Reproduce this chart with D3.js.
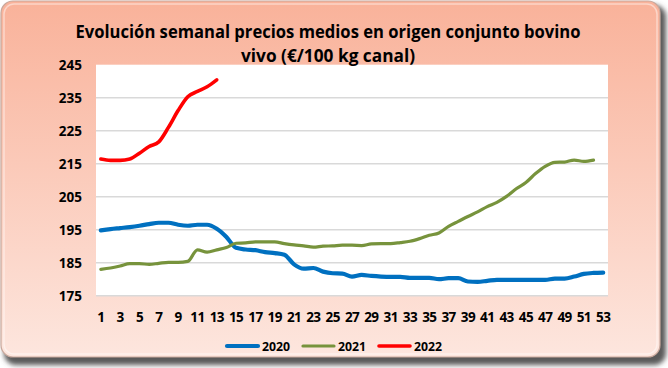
<!DOCTYPE html>
<html>
<head>
<meta charset="utf-8">
<script src="https://cdn.jsdelivr.net/npm/d3@7"></script>
<style>
  html, body { margin: 0; padding: 0; background: #ffffff; }
  svg { display: block; }
  text { font-family: "Open Sans", "Liberation Sans", sans-serif; font-weight: 700; fill: #000; }
</style>
</head>
<body>
<svg id="chart" width="668" height="368"></svg>
<script>
// Weekly average origin prices, live cattle (€/100 kg carcass)
const weeks = d3.range(1, 54);
const xTickLabels = d3.range(1, 54, 2);
const yTicks = [175, 185, 195, 205, 215, 225, 235, 245];
const seriesNames = ["2020", "2021", "2022"];
const seriesColors = ["#0070C0", "#77933C", "#FF0000"];
const seriesWidths = [4.2, 3.2, 3.6];

const prices2020 = [194.8, 195.2, 195.5, 195.8, 196.2, 196.7, 197.1, 197.1, 196.5, 196.2,
  196.5, 196.5, 195.3, 192.8, 189.5, 189.0, 188.8, 188.2, 187.9, 187.4,
  184.5, 183.2, 183.4, 182.3, 181.8, 181.7, 180.8, 181.3, 181.0, 180.8,
  180.7, 180.7, 180.4, 180.4, 180.4, 180.0, 180.3, 180.3, 179.3, 179.2,
  179.5, 179.8, 179.8, 179.8, 179.8, 179.8, 179.8, 180.2, 180.2, 180.8,
  181.6, 181.9, 182.0];
const prices2021 = [183.0, 183.4, 184.0, 184.7, 184.7, 184.5, 184.8, 185.1, 185.1, 185.4,
  188.9, 188.2, 188.9, 189.6, 190.9, 191.0, 191.3, 191.3, 191.3, 190.8,
  190.4, 190.1, 189.7, 190.0, 190.1, 190.3, 190.3, 190.2, 190.7, 190.8,
  190.8, 191.1, 191.5, 192.3, 193.3, 194.0, 196.0, 197.5, 199.0, 200.4,
  202.0, 203.3, 205.1, 207.4, 209.3, 212.0, 214.2, 215.4, 215.5, 216.1,
  215.7, 216.1];
const prices2022 = [216.4, 216.0, 216.0, 216.4, 218.2, 220.2, 221.6, 226.0, 231.1, 235.3,
  236.9, 238.3, 240.4];

const seriesValues = [prices2020, prices2021, prices2022];

const svg = d3.select("#chart");
const W = 668, H = 368;

// ---- frame: shadow, gradient panel, bevel ----
const defs = svg.append("defs");
const bg = defs.append("linearGradient").attr("id", "panelFill")
  .attr("x1", 0).attr("y1", 0).attr("x2", 0).attr("y2", 1);
bg.append("stop").attr("offset", "0%").attr("stop-color", "#F9B29A");
bg.append("stop").attr("offset", "45%").attr("stop-color", "#FBC9B8");
bg.append("stop").attr("offset", "100%").attr("stop-color", "#FDE6DE");

const blur = defs.append("filter").attr("id", "soft")
  .attr("x", "-5%").attr("y", "-5%").attr("width", "110%").attr("height", "115%");
blur.append("feGaussianBlur").attr("stdDeviation", 2.5);

svg.append("rect")
  .attr("x", 4).attr("y", 5).attr("width", 662).attr("height", 360)
  .attr("rx", 12).attr("fill", "#5a5a5a").attr("filter", "url(#soft)");

svg.append("rect")
  .attr("x", 1).attr("y", 1).attr("width", 659).attr("height", 356)
  .attr("rx", 12).attr("fill", "url(#panelFill)")
  .attr("stroke", "#c9a89c").attr("stroke-width", 1.2);

svg.append("rect")
  .attr("x", 4).attr("y", 4).attr("width", 653).attr("height", 350)
  .attr("rx", 10).attr("fill", "none")
  .attr("stroke", "#ffffff").attr("stroke-opacity", 0.45).attr("stroke-width", 1.5);

// ---- scales ----
const plot = { left: 96, right: 608, top: 64.7, bottom: 295.7 };

const x = d3.scaleBand()
  .domain(weeks)
  .range([plot.left, plot.right]);

const y = d3.scaleLinear()
  .domain([175, 245])
  .range([plot.bottom, plot.top]);

const cx = d => x(d) + x.bandwidth() / 2;

// ---- plot area ----
svg.append("rect")
  .attr("x", plot.left).attr("y", plot.top)
  .attr("width", plot.right - plot.left).attr("height", plot.bottom - plot.top)
  .attr("fill", "#ffffff");

svg.append("g")
  .selectAll("line")
  .data(yTicks.filter(t => t < 245))
  .join("line")
  .attr("x1", plot.left).attr("x2", plot.right)
  .attr("y1", d => y(d)).attr("y2", d => y(d))
  .attr("stroke", "#d9d9d9").attr("stroke-width", 1.6);

// ---- axes ----
const yAxis = d3.axisLeft(y).tickValues(yTicks).tickSize(0).tickPadding(14);
const gy = svg.append("g")
  .attr("transform", `translate(${plot.left},0)`)
  .call(yAxis);
gy.select(".domain").remove();
gy.selectAll("text")
  .style("font-size", "13.5px")
  .style("font-family", "'Open Sans', sans-serif")
  .style("font-weight", 700)
  .attr("fill", "#000");

const xAxis = d3.axisBottom(x)
  .tickValues(xTickLabels)
  .tickSize(0).tickPadding(17);
const gx = svg.append("g")
  .attr("transform", `translate(0,${plot.bottom})`)
  .call(xAxis);
gx.select(".domain").remove();
gx.selectAll("text")
  .style("font-size", "13.5px")
  .style("font-family", "'Open Sans', sans-serif")
  .style("font-weight", 700)
  .style("letter-spacing", "-0.6px")
  .attr("fill", "#000");

// ---- series lines ----
const line = d3.line()
  .x((d, i) => cx(weeks[i]))
  .y(d => y(d))
  .curve(d3.curveMonotoneX);

seriesValues.forEach((vals, k) => {
  svg.append("path")
    .datum(vals)
    .attr("d", line)
    .attr("fill", "none")
    .attr("stroke", seriesColors[k])
    .attr("stroke-width", seriesWidths[k])
    .attr("stroke-linecap", "round")
    .attr("stroke-linejoin", "round");
});

// ---- title ----
const title = svg.append("g");
title.append("text")
  .attr("x", 328).attr("y", 38)
  .attr("text-anchor", "middle")
  .attr("textLength", 505).attr("lengthAdjust", "spacingAndGlyphs")
  .style("font-size", "17px")
  .text("Evolución semanal precios medios en origen conjunto bovino");
title.append("text")
  .attr("x", 328).attr("y", 62)
  .attr("text-anchor", "middle")
  .attr("textLength", 174).attr("lengthAdjust", "spacingAndGlyphs")
  .style("font-size", "17px")
  .text("vivo (€/100 kg canal)");

// ---- legend ----
const legendX = [227, 303, 379];
const legend = svg.append("g");
seriesNames.forEach((name, k) => {
  legend.append("line")
    .attr("x1", legendX[k]).attr("x2", legendX[k] + 31)
    .attr("y1", 346).attr("y2", 346)
    .attr("stroke", seriesColors[k])
    .attr("stroke-width", seriesWidths[k])
    .attr("stroke-linecap", "round");
  legend.append("text")
    .attr("x", legendX[k] + 35).attr("y", 350.5)
    .attr("textLength", 28).attr("lengthAdjust", "spacingAndGlyphs")
    .style("font-size", "12px")
    .text(name);
});
</script>
</body>
</html>
